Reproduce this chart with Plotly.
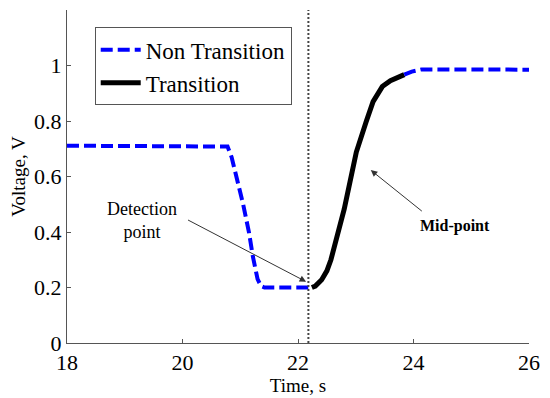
import plotly.graph_objects as go

# ---- data ----
pre_time = [18.0, 20.7, 20.78, 20.85, 20.95, 21.05, 21.15, 21.22, 21.3, 21.36, 21.42, 22.25]
pre_volt = [0.711, 0.711, 0.708, 0.67, 0.59, 0.50, 0.40, 0.31, 0.23, 0.205, 0.2, 0.2]

trans_time = [22.24, 22.3, 22.41, 22.5, 22.57, 22.68, 22.8, 22.9, 23.01, 23.18, 23.3, 23.46, 23.6, 23.84]
trans_volt = [0.2, 0.205, 0.228, 0.26, 0.30, 0.384, 0.482, 0.58, 0.688, 0.797, 0.87, 0.924, 0.945, 0.967]

post_time = [23.84, 23.97, 24.14, 25.0, 26.0]
post_volt = [0.967, 0.978, 0.986, 0.985, 0.985]

detection_time = 22.18

x_ticks = [18, 20, 22, 24, 26]
y_ticks = [0, 0.2, 0.4, 0.6, 0.8, 1]
y_tick_labels = ["0", "0.2", "0.4", "0.6", "0.8", "1"]

det_label = "Detection<br>point"
det_text_pos = (19.29, 0.44)
det_arrow_tail = (20.07, 0.446)
det_arrow_head = (22.14, 0.221)

mid_label = "<b>Mid-point</b>"
mid_text_pos = (24.72, 0.42)
mid_arrow_tail = (24.17, 0.471)
mid_arrow_head = (23.26, 0.623)

FONT = "Liberation Serif"
BLUE = "#0000ff"

fig = go.Figure()
fig.add_trace(go.Scatter(x=pre_time, y=pre_volt, mode="lines", name="Non Transition",
                         legendgroup="non",
                         line=dict(color=BLUE, width=4, dash="12px,5px")))
fig.add_trace(go.Scatter(x=trans_time, y=trans_volt, mode="lines", name="Transition",
                         line=dict(color="black", width=5)))
fig.add_trace(go.Scatter(x=post_time, y=post_volt, mode="lines", name="Non Transition",
                         legendgroup="non", showlegend=False,
                         line=dict(color=BLUE, width=4, dash="12px,5px")))

fig.add_shape(type="line", xref="x", yref="paper", x0=detection_time, x1=detection_time,
              y0=0, y1=1, line=dict(color="#444444", width=2, dash="2px,2px"))

# arrows
for tail, head in [(det_arrow_tail, det_arrow_head), (mid_arrow_tail, mid_arrow_head)]:
    fig.add_annotation(x=head[0], y=head[1], ax=tail[0], ay=tail[1], axref="x", ayref="y",
                       xref="x", yref="y", text="", showarrow=True, arrowhead=2,
                       arrowsize=1.3, arrowwidth=1, arrowcolor="#333333")
fig.add_annotation(x=det_text_pos[0], y=det_text_pos[1], text=det_label, showarrow=False,
                   font=dict(family=FONT, size=18, color="black"), align="center")
fig.add_annotation(x=mid_text_pos[0], y=mid_text_pos[1], text=mid_label, showarrow=False,
                   font=dict(family=FONT, size=16, color="black"))

# page body has an 8px margin, so the figure is sized/offset to compensate
fig.update_layout(
    width=542, height=390,
    margin=dict(l=59, r=21, t=2, b=55),
    paper_bgcolor="white", plot_bgcolor="white",
    font=dict(family=FONT, color="black"),
    showlegend=True,
    legend=dict(x=0.06, y=0.948, xanchor="left", yanchor="top",
                bordercolor="#555555", borderwidth=1, bgcolor="white",
                font=dict(family=FONT, size=23, color="black"),
                tracegroupgap=0, itemwidth=40),
    xaxis=dict(range=[18, 26], tickvals=x_ticks, ticks="inside", ticklen=4,
               tickcolor="#555555", showline=True, linecolor="#555555", linewidth=1,
               showgrid=False, zeroline=False,
               tickfont=dict(family=FONT, size=22, color="black"),
               title=dict(text="Time, s", font=dict(family=FONT, size=19, color="black"),
                          standoff=1)),
    yaxis=dict(range=[0, 1.2], tickvals=y_ticks, ticktext=y_tick_labels, ticks="inside",
               ticklen=4, tickcolor="#555555", showline=True, linecolor="#555555",
               linewidth=1, showgrid=False, zeroline=False,
               tickfont=dict(family=FONT, size=22, color="black"),
               title=dict(text="Voltage, V", font=dict(family=FONT, size=19, color="black"),
                          standoff=4)),
)

fig.write_html("out.html")
